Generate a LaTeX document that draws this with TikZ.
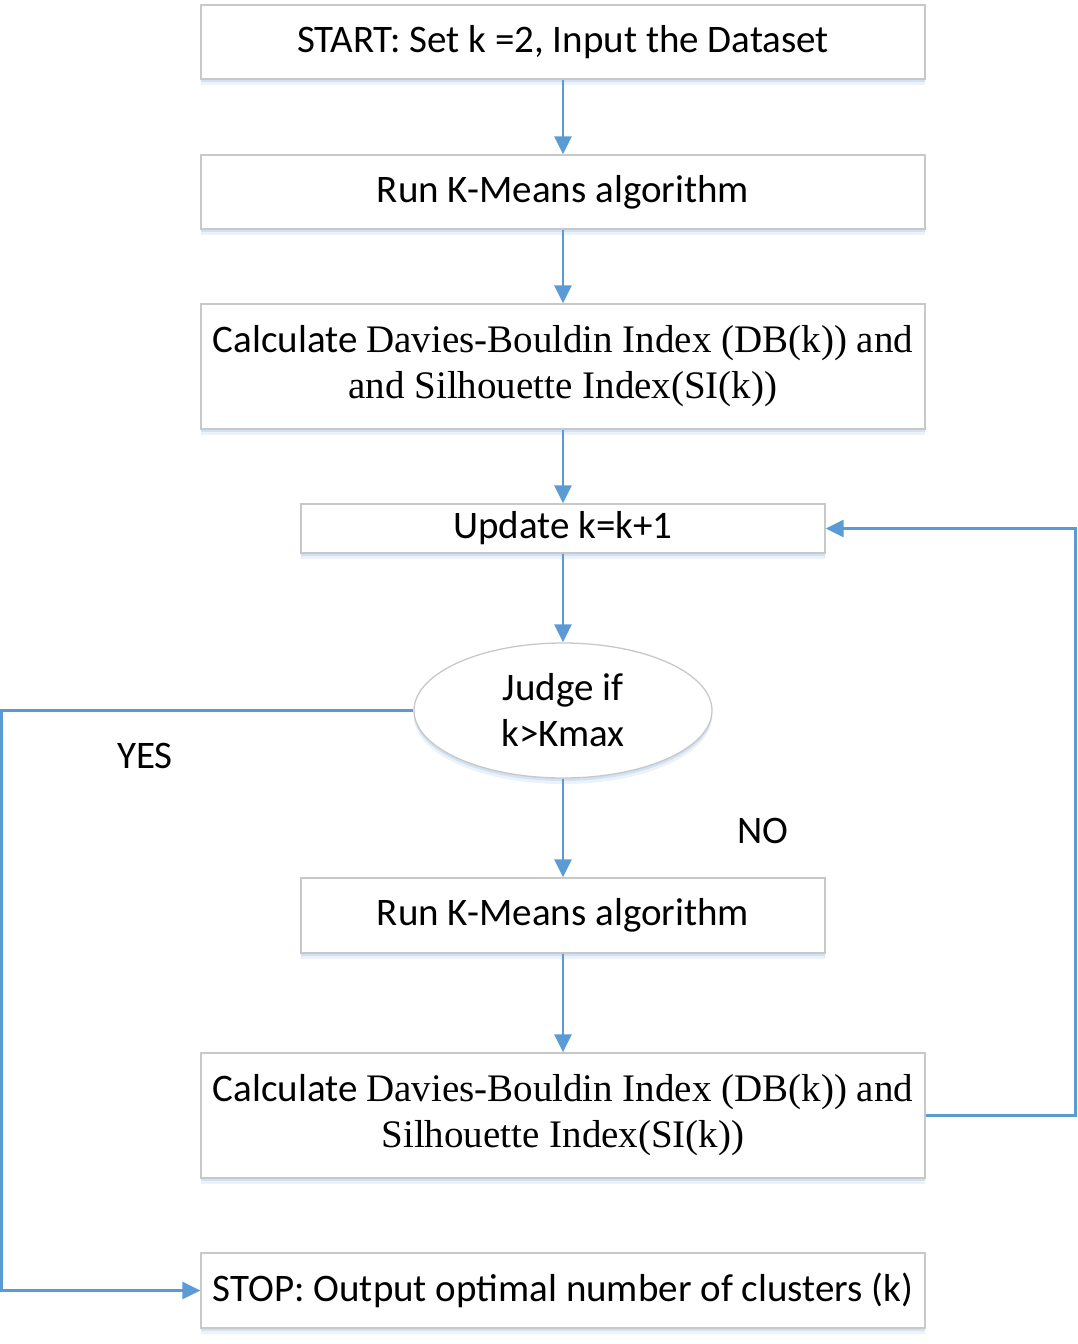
\documentclass[tikz,border=0pt]{standalone}
\usepackage{fontspec}
\setmainfont{Carlito}
\newfontfamily\tms{Liberation Serif}
\usetikzlibrary{arrows.meta,shapes.geometric,shadows}
\definecolor{arrowblue}{HTML}{5B9BD5}
\definecolor{boxgray}{HTML}{C8C8C8}
\definecolor{shadowc}{HTML}{BDD3EE}
\tikzset{
  softshadow/.style={
    general shadow={fill=shadowc, opacity=0.55, shadow yshift=-3pt},
    general shadow={fill=shadowc, opacity=0.3, shadow yshift=-6pt}},
  procbox/.style={draw=boxgray, line width=1.3pt, fill=white, softshadow,
    inner sep=0pt, align=center, font=\fontsize{39}{46}\selectfont},
  widebox/.style={procbox, minimum width=724pt},
  narrowbox/.style={procbox, minimum width=524pt},
  judgebox/.style={ellipse, draw=boxgray, line width=1.3pt, fill=white, softshadow,
    minimum width=298pt, minimum height=135pt, inner sep=0pt, align=center,
    font=\fontsize{39}{46}\selectfont},
  flow/.style={draw=arrowblue, line width=2.6pt,
    -{Triangle[length=18pt,width=17pt]}},
  lbl/.style={font=\fontsize{39}{46}\selectfont, inner sep=0pt}
}
\begin{document}
\begin{tikzpicture}[x=1pt,y=-1pt]
\useasboundingbox (0,0) rectangle (1077,1344);
\node[widebox, minimum height=74pt] (start) at (563,42) {START: Set k =2, Input the Dataset};
\node[widebox, minimum height=74pt] (run1) at (563,192) {Run K-Means algorithm};
\node[widebox, minimum height=125pt] (calc1) at (563,366.5) {Calculate {\tms Davies-Bouldin Index (DB(k)) and}\\{\tms and Silhouette Index(SI(k))}};
\node[narrowbox, minimum height=49pt] (upd) at (563,528.5) {Update k=k+1};
\node[judgebox] (judge) at (563,710.5) {Judge if\\k>Kmax};
\node[narrowbox, minimum height=75pt] (run2) at (563,915.5) {Run K-Means algorithm};
\node[widebox, minimum height=125pt] (calc2) at (563,1115.5) {Calculate {\tms Davies-Bouldin Index (DB(k)) and}\\{\tms Silhouette Index(SI(k))}};
\node[widebox, minimum height=75pt] (stop) at (563,1290.5) {STOP: Output optimal number of clusters (k)};
\node[lbl] (yes) at (145,756) {YES};
\node[lbl] (no) at (763,831) {NO};
\draw[flow] (start) -- (run1);
\draw[flow] (run1) -- (calc1);
\draw[flow] (calc1) -- (upd);
\draw[flow] (upd) -- (judge);
\draw[flow] (judge) -- (run2);
\draw[flow] (run2) -- (calc2);
\draw[flow] (calc2.east) -- ++(150,0) |- (upd.east);
\draw[flow] (judge.west) -- ++(-412,0) |- (stop.west);
\end{tikzpicture}
\end{document}
